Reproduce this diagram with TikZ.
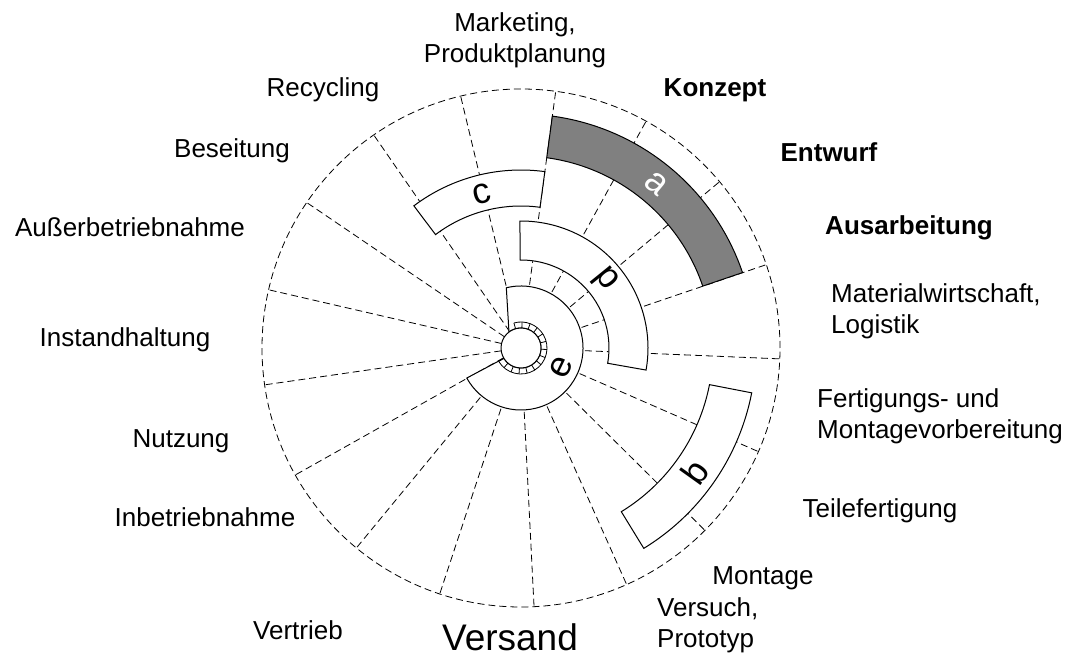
\documentclass[tikz,border=0pt]{standalone}
\usepackage{fontspec}
\setmainfont{Liberation Sans}
\begin{document}
\begin{tikzpicture}[x=1pt, y=1pt,
	sector/.style={dash pattern=on 7pt off 4pt, line width=0.8pt},
	phase/.style={draw, line width=1pt, fill=white},
	lbl/.style={font=\fontsize{26}{31}\selectfont, inner sep=0pt},
	letter/.style={font=\fontsize{36}{36}\selectfont, inner sep=0pt}]
	\useasboundingbox (0,0) rectangle (1073,670);
	\begin{scope}[shift={(521,322)}]
	\draw[sector] (0,0) circle (259pt);
	\foreach \k in {0,...,16}
		\draw[sector] ({82.3+\k*360/17}:20pt) -- ({82.3+\k*360/17}:259pt);
	\draw[phase, fill=gray] (82.3:234pt) arc(82.3:18.8:234pt) -- (18.8:192pt) arc(18.8:82.3:192pt) -- cycle;
	\draw[phase] (-11:235pt) arc(-11:-58.5:235pt) -- (-58.5:192pt) arc(-58.5:-11:192pt) -- cycle;
	\draw[phase] (82.3:178pt) arc(82.3:127:178pt) -- (127:142pt) arc(127:82.3:142pt) -- cycle;
	\draw[phase] (90.5:127pt) arc(90.5:-10:127pt) -- (-10:88pt) arc(-10:90.5:88pt) -- cycle;
	\draw[phase] (103.7:62pt) arc(103.7:-151:62pt) -- (-149:20pt) arc(-149:127:20pt) -- cycle;
	\draw[line width=1pt, fill=white] (0,0) circle (20pt);
	\draw[line width=0.8pt] (-149:26pt) arc(-149:106:26pt);
	\foreach \t in {0,...,14}
		\draw[line width=0.8pt] ({-149+\t*18.2}:20pt) -- ({-149+\t*18.2}:26pt);
	\node[letter, text=white, rotate=-39.5] (pa) at (50.5:213pt) {a};
	\node[letter, rotate=54.5] (pb) at (-35.5:214pt) {b};
	\node[letter, rotate=14.4] (pc) at (104.4:159pt) {c};
	\node[letter, rotate=129] (pd) at (39:108pt) {d};
	\node[letter, rotate=64.4] (pe) at (-25.6:45pt) {e};
	\end{scope}
	\node[lbl, align=center] (marketing) at (515,630) {Marketing,\\Produktplanung};
	\node[lbl] (recycling) at (323,580) {Recycling};
	\node[lbl] (konzept) at (715,580) {\bfseries Konzept};
	\node[lbl] (beseitung) at (232,519) {Beseitung};
	\node[lbl] (entwurf) at (829,518) {\bfseries Entwurf};
	\node[lbl] (ausserbetr) at (130,443) {Außerbetriebnahme};
	\node[lbl] (ausarb) at (909,442) {\bfseries Ausarbeitung};
	\node[lbl, align=left, anchor=west] (logistik) at (831,359) {Materialwirtschaft,\\Logistik};
	\node[lbl] (instand) at (125,330) {Instandhaltung};
	\node[lbl, align=left, anchor=west] (fertvorb) at (817,254) {Fertigungs- und\\Montagevorbereitung};
	\node[lbl] (nutzung) at (181,229) {Nutzung};
	\node[lbl] (teilefert) at (880,159) {Teilefertigung};
	\node[lbl] (inbetr) at (205,153) {Inbetriebnahme};
	\node[lbl] (montage) at (763,92) {Montage};
	\node[lbl] (vertrieb) at (298,40) {Vertrieb};
	\node[lbl, font=\fontsize{37}{40}\selectfont] (versand) at (510,33) {Versand};
	\node[lbl, align=left, anchor=west] (prototyp) at (657,45) {Versuch,\\Prototyp};
\end{tikzpicture}
\end{document}
